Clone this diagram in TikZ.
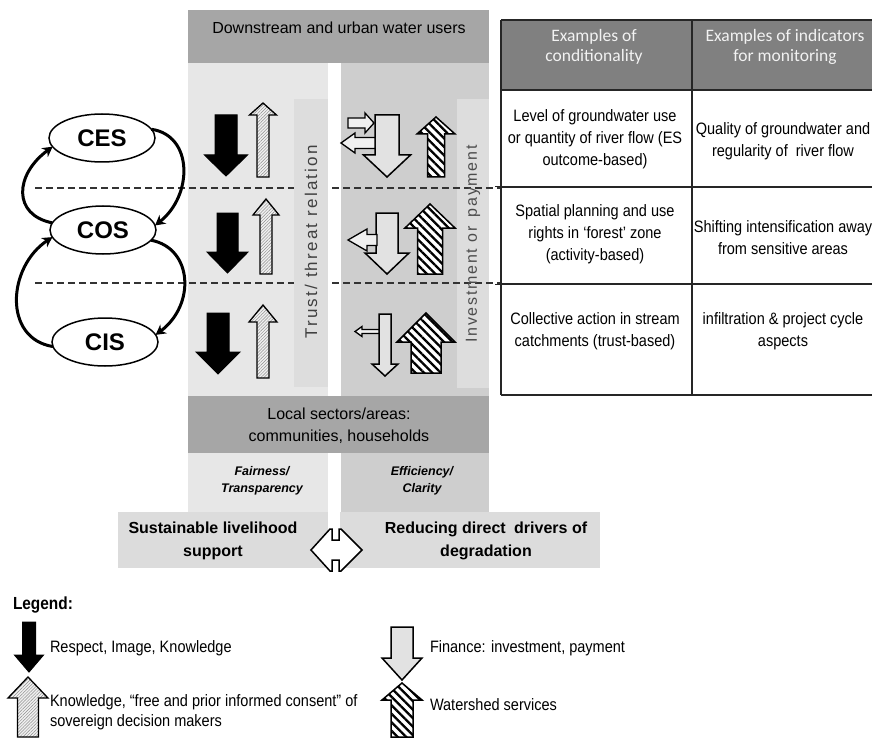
\documentclass[tikz,border=0pt]{standalone}
\usepackage{fontspec}
\setmainfont{Liberation Sans}
\newfontfamily\narrowfont[FakeStretch=0.88]{Liberation Sans}
\newfontfamily\hdrfont{Carlito}
\usetikzlibrary{patterns.meta,arrows.meta,shapes.geometric}

\definecolor{hdrgray}{RGB}{166,166,166}
\definecolor{colL}{RGB}{231,231,231}
\definecolor{colR}{RGB}{206,206,206}
\definecolor{stripL}{RGB}{221,221,221}
\definecolor{stripR}{RGB}{221,221,221}
\definecolor{botbox}{RGB}{220,220,220}
\definecolor{tabhdr}{RGB}{128,128,128}
\definecolor{tabhdrtxt}{RGB}{242,242,242}
\definecolor{arrowfill}{RGB}{226,226,226}
\definecolor{lightfill}{RGB}{240,240,240}

\newcommand\fs[2]{\fontsize{#1}{#2}\selectfont}
% vertical block arrow: style, x centre, shaft half width, head half width,
% tail y, head-base y, tip y
\newcommand\blockv[7]{%
  \path[#1] ({#2-#3},#5) -- ({#2+#3},#5) -- ({#2+#3},#6) -- ({#2+#4},#6)
    -- (#2,#7) -- ({#2-#4},#6) -- ({#2-#3},#6) -- cycle;}
% horizontal block arrow: style, y centre, shaft half width, head half width,
% tail x, head-base x, tip x
\newcommand\blockh[7]{%
  \path[#1] (#5,{#2-#3}) -- (#5,{#2+#3}) -- (#6,{#2+#3}) -- (#6,{#2+#4})
    -- (#7,#2) -- (#6,{#2-#4}) -- (#6,{#2-#3}) -- cycle;}

\begin{document}
\begin{tikzpicture}[x=1pt,y=-1pt,
  every node/.style={inner sep=0pt,outer sep=0pt},
  solidarr/.style={fill=black,draw=black,line width=1pt,line join=miter},
  lightarr/.style={draw=black,line width=1.3pt,line join=miter,
    preaction={fill=lightfill},
    pattern={Lines[angle=45,distance=2.2pt,line width=0.45pt]},
    pattern color=black!45},
  boldarr/.style={draw=black,line width=1.5pt,line join=miter,
    preaction={fill=white},
    pattern={Lines[angle=-45,distance=6pt,line width=2.3pt]},
    pattern color=black},
  finarr/.style={draw=black,line width=1.5pt,line join=miter,fill=arrowfill},
  smallarr/.style={draw=black,line width=1.3pt,line join=miter,fill=lightfill},
  ell/.style={ellipse,draw=black,line width=1.5pt,fill=white,
    minimum width=106pt,minimum height=48pt,font=\fs{24}{24}\bfseries},
  flow/.style={line width=3pt,-{Stealth[length=10pt,width=11pt]}},
  sepline/.style={dash pattern=on 7pt off 4pt,draw=black!80},
  tabline/.style={draw=black!85,line width=1.4pt},
  tabtxt/.style={align=center,font=\narrowfont\fs{16.5}{22}},
  hdrtxt/.style={align=center,text=tabhdrtxt,font=\hdrfont\fs{17.5}{20}},
  bandtxt/.style={align=center,font=\fs{16}{22}},
  bottxt/.style={align=center,font=\fs{16}{23}\bfseries},
  smalltxt/.style={align=center,font=\fs{12.5}{17}\bfseries\itshape},
  legtxt/.style={anchor=west,align=left,font=\narrowfont\fs{16.5}{20}}]

\useasboundingbox (0,0) rectangle (872,738);
\fill[white] (0,0) rectangle (872,738);

% ---- central panel ----
\fill[hdrgray] (188,10) rectangle (489,63);
\fill[colL] (188,63) rectangle (328,512);
\fill[colR] (341,63) rectangle (489,512);
\fill[stripR] (457,99) rectangle (489,388);
\fill[hdrgray] (188,396) rectangle (489,453);
\node[bandtxt] (down) at (339,28) {Downstream and urban water users};
\node[bandtxt] (local) at (339,426) {Local sectors/areas:\\communities, households};

% level separators
\draw[sepline,line width=1.8pt] (35,188) -- (501,188);
\draw[sepline,line width=1.2pt] (35,283) -- (501,283);
\draw[black!85,line width=1pt] (495,187) -- (501,187) (495,284) -- (501,284);

\fill[stripL] (294,99) rectangle (328,387);
\node[rotate=90,text=black!75,font={\fs{17}{17}\addfontfeature{LetterSpace=13}}]
  (trust) at (311,242) {Trust/ threat relation};
\node[rotate=90,text=black!70,font={\fs{16}{16}\addfontfeature{LetterSpace=11}}]
  (invest) at (473,244) {Investment or\hspace{3pt} payment};

\node[smalltxt] (fair) at (262,481) {Fairness/\\Transparency};
\node[smalltxt] (effic) at (422,481) {Efficiency/\\Clarity};

% bottom boxes
\fill[botbox] (118,512) rectangle (328,568);
\fill[botbox] (340,512) rectangle (600,568);
\node[bottxt] (liveli) at (213,541) {Sustainable livelihood\\support};
\node[bottxt] (drivers) at (486,541) {Reducing direct\hspace{4pt} drivers of\\degradation};
\filldraw[fill=white,draw=black,line width=1.5pt,line join=miter]
  (311,550) -- (330,529) -- (332,529) -- (332,540) -- (339,540) -- (339,529)
  -- (341,529) -- (362,550) -- (341,571) -- (339,571) -- (339,560)
  -- (332,560) -- (332,571) -- (330,571) -- cycle;

% ---- flows between the levels ----
% level 1
\blockv{solidarr}{226}{11}{21.5}{115}{155}{176}
\blockv{lightarr}{263}{6}{13.5}{177}{115}{103}
\blockv{finarr}{387}{12}{23.5}{115}{155}{177}
\blockh{smallarr}{123}{5}{10}{348}{365}{374}
\blockh{smallarr}{143}{5.5}{10}{375}{355}{341}
\blockv{boldarr}{436}{8.5}{19}{177}{134}{117}
% level 2
\blockv{solidarr}{227.5}{10.5}{20.5}{213}{252}{273}
\blockv{lightarr}{266}{6}{13}{274}{215}{199}
\blockv{finarr}{387}{11}{22}{213}{253}{274}
\blockh{smallarr}{240}{5.5}{11}{377}{367}{348}
\blockv{boldarr}{430}{12.5}{25}{274}{228}{204}
% level 3
\blockv{solidarr}{218}{11}{22}{313}{352}{374}
\blockv{lightarr}{263}{6}{14}{378}{322}{305}
\blockv{finarr}{385}{6}{13}{314}{364}{376}
\blockh{smallarr}{331.5}{2}{5}{379}{362}{355}
\blockv{boldarr}{426}{15}{29}{373}{342}{313}

% ---- levels and their feedback loops ----
\node[ell] (ces) at (102,138) {CES};
\node[ell] (cos) at (103,230) {COS};
\node[ell] (cis) at (105,342) {CIS};
\draw[flow] (ces.10) .. controls +(42,6) and +(38,-30) .. (cos.5);
\draw[flow] (cos.172) .. controls +(-40,-8) and +(-38,28) .. (ces.190);
\draw[flow] (cos.-12) .. controls +(42,8) and +(40,-30) .. (cis.8);
\draw[flow] (cis.185) .. controls +(-50,-8) and +(-45,30) .. (cos.188);

% ---- table ----
\fill[tabhdr] (501,20) rectangle (872,90);
\draw[tabline] (501,20) -- (872,20);
\draw[tabline] (501,20) -- (501,395) (692,20) -- (692,395);
\draw[tabline] (501,90) -- (872,90) (501,187) -- (872,187)
  (501,284) -- (872,284) (501,395) -- (872,395);
\node[hdrtxt] (h1) at (594,47) {Examples of\\conditionality};
\node[hdrtxt] (h2) at (785,47) {Examples of indicators\\for monitoring};
\node[tabtxt] (c11) at (595,139) {Level of groundwater use\\or quantity of river flow (ES\\outcome-based)};
\node[tabtxt] (c12) at (783,141) {Quality of groundwater and\\regularity of\hspace{4pt} river flow};
\node[tabtxt] (c21) at (595,234) {Spatial planning and use\\rights in ‘forest’ zone\\(activity-based)};
\node[tabtxt] (c22) at (783,238) {Shifting intensification away\\from sensitive areas};
\node[tabtxt] (c31) at (595,331) {Collective action in stream\\catchments (trust-based)};
\node[tabtxt] (c32) at (783,331) {infiltration \& project cycle\\aspects};

% ---- legend ----
\node[legtxt,font=\narrowfont\fs{17.5}{20}\bfseries] (leg) at (13,605) {Legend:};
\blockv{solidarr}{29}{6.5}{14.5}{622}{655}{672}
\blockv{lightarr}{28}{10.5}{20}{737}{698}{677}
\blockv{finarr}{402}{11}{20}{627}{658}{680}
\blockv{boldarr}{402}{11}{20}{737}{700}{683}
\node[legtxt] (l1) at (50,648) {Respect, Image, Knowledge};
\node[legtxt] (l2) at (50,712) {Knowledge, “free and prior informed consent” of\\sovereign decision makers};
\node[legtxt] (l3) at (430,648) {Finance: investment, payment};
\node[legtxt] (l4) at (430,705) {Watershed services};
\end{tikzpicture}
\end{document}
